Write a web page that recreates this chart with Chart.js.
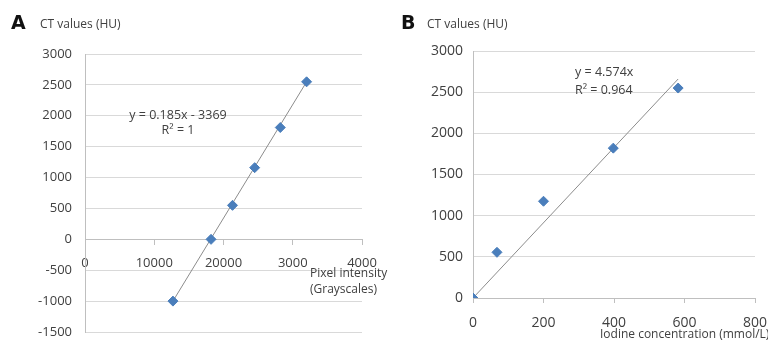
<!DOCTYPE html>
<html>
<head>
<meta charset="utf-8">
<script src="https://cdn.jsdelivr.net/npm/chart.js@4.4.0/dist/chart.umd.min.js"></script>
<style>
  body { margin: 0; background: #fff; width: 768px; height: 342px; position: relative; overflow: hidden; }
  #chartA { position: absolute; left: 0; top: 0; }
  #chartB { position: absolute; left: 384px; top: 0; }
</style>
</head>
<body>
<canvas id="chartA" width="400" height="342"></canvas>
<canvas id="chartB" width="384" height="342"></canvas>
<script>
// panel A: pixel intensity vs CT value
const pixelX = [12700, 18200, 21300, 24500, 28200, 32000];
const ctA = [-1000, 0, 550, 1160, 1810, 2550];
const trendAx = [12700, 32000];
const trendAy = [-1000, 2550];
const tickLabelsA = ["0", "10000", "20000", "3000", "4000"];

// panel B: iodine concentration vs CT value
const iodine = [0, 68, 200, 398, 582];
const ctB = [0, 555, 1175, 1820, 2550];
const trendBx = [0, 582];
const trendBy = [0, 2660];

const FONT = "'Open Sans', sans-serif";
const TEXT = "#404040";
const GRID = "#d9d9d9";
const AXIS = "#bfbfbf";
const MARK = "#4a7ebb";

Chart.defaults.font.family = FONT;
Chart.defaults.color = TEXT;
Chart.defaults.animation = false;

function toPoints(xs, ys) {
  return xs.map((x, i) => ({ x: x, y: ys[i] }));
}

// fixed axis size, no extra room for overhanging labels
function fixSize(w, h) {
  return s => {
    if (w !== null) s.width = w;
    if (h !== null) s.height = h;
    s.paddingTop = s.paddingBottom = s.paddingLeft = s.paddingRight = 0;
  };
}

// free text (panel letters, axis titles, trendline equations)
const notesPlugin = {
  id: 'notes',
  afterDraw(chart, args, opts) {
    const ctx = chart.ctx;
    ctx.save();
    ctx.textBaseline = 'middle';
    opts.items.forEach(it => {
      ctx.font = it.font;
      ctx.fillStyle = it.color || TEXT;
      ctx.textAlign = it.align || 'left';
      ctx.fillText(it.text, it.x, it.y);
    });
    ctx.restore();
  }
};

function datasets(xs, ys, tx, ty) {
  return [
    {
      data: toPoints(xs, ys),
      pointStyle: 'rectRot',
      pointRadius: 5,
      pointBackgroundColor: MARK,
      pointBorderColor: MARK,
      showLine: false
    },
    {
      data: toPoints(tx, ty),
      showLine: true,
      pointRadius: 0,
      borderColor: '#8c8c8c',
      borderWidth: 1
    }
  ];
}

new Chart(document.getElementById('chartA'), {
  type: 'scatter',
  data: { datasets: datasets(pixelX, ctA, trendAx, trendAy) },
  options: {
    responsive: false,
    devicePixelRatio: 1,
    layout: { padding: { left: 0, top: 54, right: 38, bottom: 10 } },
    plugins: {
      legend: { display: false },
      tooltip: { enabled: false },
      notes: {
        items: [
          { text: 'A', x: 11, y: 24, font: "bold 19px 'DejaVu Sans'", color: '#111' },
          { text: 'CT values (HU)', x: 40, y: 25, font: "12px " + FONT },
          { text: 'y = 0.185x - 3369', x: 178, y: 115, font: "12.5px " + FONT, align: 'center' },
          { text: 'R\u00b2 = 1', x: 178, y: 130, font: "12.5px " + FONT, align: 'center' },
          { text: 'Pixel intensity', x: 310, y: 274, font: "12px " + FONT },
          { text: '(Grayscales)', x: 310, y: 290, font: "12px " + FONT }
        ]
      }
    },
    scales: {
      x: {
        type: 'linear',
        position: { y: 0 },
        min: 0, max: 40000,
        afterFit: fixSize(null, 0),
        afterBuildTicks: s => { s.ticks = tickLabelsA.map((t, i) => ({ value: i * 10000 })); },
        ticks: {
          padding: 11,
          font: { size: 13 },
          callback: (v, i) => tickLabelsA[i]
        },
        grid: { drawOnChartArea: false, drawTicks: true, tickLength: 5, color: AXIS },
        border: { color: AXIS }
      },
      y: {
        min: -1500, max: 3000,
        afterFit: fixSize(85, null),
        ticks: { stepSize: 500, padding: 13, font: { size: 13 }, callback: v => String(v) },
        grid: { color: GRID, drawTicks: false },
        border: { color: AXIS }
      }
    }
  },
  plugins: [notesPlugin]
});

new Chart(document.getElementById('chartB'), {
  type: 'scatter',
  data: { datasets: datasets(iodine, ctB, trendBx, trendBy) },
  options: {
    responsive: false,
    devicePixelRatio: 1,
    layout: { padding: { left: 0, top: 51, right: 13, bottom: 0 } },
    plugins: {
      legend: { display: false },
      tooltip: { enabled: false },
      notes: {
        items: [
          { text: 'B', x: 17, y: 24, font: "bold 19px 'DejaVu Sans'", color: '#111' },
          { text: 'CT values (HU)', x: 43, y: 25, font: "12px " + FONT },
          { text: 'y = 4.574x', x: 191, y: 72, font: "12.5px " + FONT },
          { text: 'R\u00b2 = 0.964', x: 191, y: 90, font: "12.5px " + FONT },
          { text: 'Iodine concentration (mmol/L)', x: 216, y: 335, font: "12px " + FONT }
        ]
      }
    },
    scales: {
      x: {
        type: 'linear',
        position: 'bottom',
        min: 0, max: 800,
        afterFit: fixSize(null, 44),
        ticks: { stepSize: 200, padding: 12, font: { size: 14 } },
        grid: { drawOnChartArea: false, drawTicks: true, tickLength: 5, color: AXIS },
        border: { color: AXIS }
      },
      y: {
        min: 0, max: 3000,
        afterFit: fixSize(89, null),
        ticks: { stepSize: 500, padding: 10, font: { size: 14 }, callback: v => String(v) },
        grid: { color: GRID, drawTicks: false },
        border: { color: AXIS }
      }
    }
  },
  plugins: [notesPlugin]
});
</script>
</body>
</html>
